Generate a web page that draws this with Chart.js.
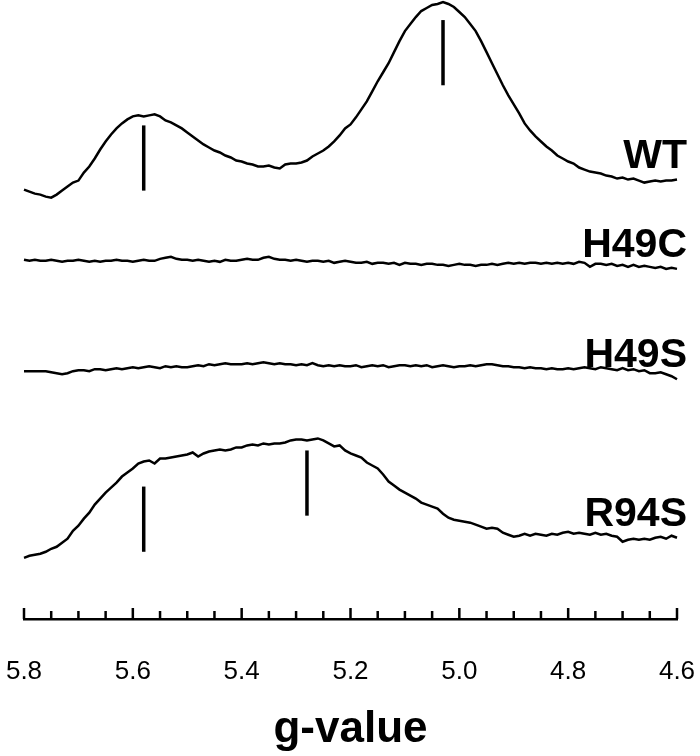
<!DOCTYPE html>
<html>
<head>
<meta charset="utf-8">
<script src="https://cdn.jsdelivr.net/npm/chart.js@4.4.1/dist/chart.umd.min.js"></script>
<style>
  body { margin: 0; background: #fff; }
  canvas { display: block; }
</style>
</head>
<body>
<canvas id="grafico" width="700" height="756"></canvas>
<script>
// g-value positions shared by all four spectra (x axis, reversed)
const gValues = [
  5.80,5.79,5.78,5.77,5.76,5.75,5.74,5.73,5.72,5.71,
  5.70,5.69,5.68,5.67,5.66,5.65,5.64,5.63,5.62,5.61,
  5.60,5.59,5.58,5.57,5.56,5.55,5.54,5.53,5.52,5.51,
  5.50,5.49,5.48,5.47,5.46,5.45,5.44,5.43,5.42,5.41,
  5.40,5.39,5.38,5.37,5.36,5.35,5.34,5.33,5.32,5.31,
  5.30,5.29,5.28,5.27,5.26,5.25,5.24,5.23,5.22,5.21,
  5.20,5.19,5.18,5.17,5.16,5.15,5.14,5.13,5.12,5.11,
  5.10,5.09,5.08,5.07,5.06,5.05,5.04,5.03,5.02,5.01,
  5.00,4.99,4.98,4.97,4.96,4.95,4.94,4.93,4.92,4.91,
  4.90,4.89,4.88,4.87,4.86,4.85,4.84,4.83,4.82,4.81,
  4.80,4.79,4.78,4.77,4.76,4.75,4.74,4.73,4.72,4.71,
  4.70,4.69,4.68,4.67,4.66,4.65,4.64,4.63,4.62,4.61,
  4.60
];

// EPR signal (arbitrary units, spectra stacked)
const wt = [
  428,426,424,423,421,420,423,427,431,435,
  437,445,451,459,468,476,483,489,494,498,
  501,502,501,502,503,501,497,495,492,489,
  485,481,477,473,470,467,465,462,460,457,
  456,454,453,451,451,452,450,449,453,454,
  454,455,457,461,464,467,471,476,482,489,
  493,500,508,516,526,536,545,554,565,576,
  586,593,600,606,609,612,613,615,613,610,
  605,600,593,586,576,565,554,543,532,522,
  513,504,494,487,481,476,471,467,462,459,
  456,454,450,448,446,445,444,442,441,439,
  440,438,439,437,435,436,437,436,437,437,
  438
];
const h49c = [
  358,357,358,357,357,358,357,356,357,357,
  358,357,356,357,356,357,357,358,357,357,
  356,357,358,357,357,359,360,361,359,358,
  358,357,358,357,356,357,356,358,357,357,
  358,359,358,358,360,361,359,358,358,357,
  358,357,356,357,357,356,357,355,356,357,
  356,355,355,356,354,355,355,354,355,353,
  355,354,354,353,354,354,353,353,352,353,
  354,353,353,352,353,353,354,353,354,355,
  354,355,354,355,355,354,355,354,355,354,
  355,354,356,355,351,354,354,353,354,352,
  353,351,353,351,352,351,350,351,349,350,
  349
];
const h49s = [
  247,247,247,247,247,246,245,244,245,247,
  248,248,247,249,249,248,249,250,249,250,
  251,250,251,252,251,250,252,251,252,251,
  251,252,253,252,254,253,254,255,254,254,
  254,255,254,255,256,255,254,255,254,254,
  253,254,253,255,253,252,253,252,253,252,
  252,253,251,252,253,252,253,251,252,253,
  253,252,253,252,253,251,252,253,252,251,
  252,252,253,252,253,254,254,253,252,252,
  251,251,250,251,250,250,249,250,249,249,
  250,249,250,251,250,249,251,250,249,248,
  250,248,249,247,248,245,245,246,244,242,
  239
];
const r94s = [
  61,63,64,65,67,70,72,76,80,88,
  93,100,106,114,120,126,131,136,142,146,
  150,155,157,158,155,160,160,161,162,163,
  164,166,162,165,167,168,169,168,169,171,
  171,173,174,173,175,174,175,175,176,178,
  179,179,178,179,180,178,175,172,173,168,
  165,163,161,156,153,150,144,137,133,129,
  126,123,120,116,114,112,110,105,101,99,
  98,97,96,94,92,90,91,90,86,84,
  82,83,85,83,85,84,83,85,84,86,
  87,85,86,85,84,86,84,85,83,82,
  77,79,80,79,80,79,81,82,80,83,
  81
];
const seriesNames = ['WT', 'H49C', 'H49S', 'R94S'];

// vertical marker bars (g position, bottom, top)
const markerG = [5.58, 5.03, 5.58, 5.28];
const markerLow = [427, 532, 67, 103];
const markerHigh = [492, 597, 132, 168];

// axis ticks
const majorTicks = [5.8, 5.6, 5.4, 5.2, 5.0, 4.8, 4.6];
const tickLabels = ['5.8', '5.6', '5.4', '5.2', '5.0', '4.8', '4.6'];
const minorTicks = [5.75, 5.7, 5.65, 5.55, 5.5, 5.45, 5.35, 5.3, 5.25, 5.15, 5.1, 5.05,
                    4.95, 4.9, 4.85, 4.75, 4.7, 4.65];

const fonte = 'Liberation Sans, Arial, sans-serif';

const traces = [wt, h49c, h49s, r94s].map((serie, i) => ({
  label: seriesNames[i],
  data: serie.map((v, j) => ({ x: gValues[j], y: v })),
  borderColor: '#000',
  borderWidth: 2.5,
  pointRadius: 0,
  tension: 0,
  clip: false,
}));

const markers = markerG.map((g, i) => ({
  label: 'marker' + i,
  data: [{ x: g, y: markerLow[i] }, { x: g, y: markerHigh[i] }],
  borderColor: '#000',
  borderWidth: 3.5,
  borderCapStyle: 'butt',
  pointRadius: 0,
  clip: false,
}));

// tick marks pointing up from the axis + right-hand labels
const extras = {
  id: 'extras',
  afterDraw(chart) {
    const ctx = chart.ctx;
    const xs = chart.scales.x;
    const ys = chart.scales.y;
    const base = chart.chartArea.bottom;
    ctx.save();
    ctx.strokeStyle = '#000';
    ctx.lineWidth = 2.5;
    ctx.lineCap = 'butt';
    majorTicks.forEach(v => {
      const px = xs.getPixelForValue(v);
      ctx.beginPath(); ctx.moveTo(px, base); ctx.lineTo(px, base - 11); ctx.stroke();
    });
    minorTicks.forEach(v => {
      const px = xs.getPixelForValue(v);
      ctx.beginPath(); ctx.moveTo(px, base); ctx.lineTo(px, base - 8); ctx.stroke();
    });

    ctx.fillStyle = '#000';
    ctx.font = 'bold 41px ' + fonte;
    ctx.textAlign = 'right';
    ctx.textBaseline = 'alphabetic';
    const xr = xs.getPixelForValue(4.6) + 10;
    traces.forEach(t => {
      const last = t.data[t.data.length - 1].y;
      ctx.fillText(t.label, xr, ys.getPixelForValue(last) - 12);
    });
    ctx.restore();
  }
};

new Chart(document.getElementById('grafico'), {
  type: 'line',
  data: { datasets: traces.concat(markers) },
  options: {
    responsive: false,
    animation: false,
    events: [],
    layout: { padding: { left: 24, right: 23, top: 0, bottom: 0 } },
    plugins: { legend: { display: false }, tooltip: { enabled: false } },
    scales: {
      x: {
        type: 'linear',
        reverse: true,
        min: 4.6,
        max: 5.8,
        afterBuildTicks: axis => { axis.ticks = majorTicks.map(v => ({ value: v })); },
        ticks: {
          autoSkip: false,
          maxRotation: 0,
          padding: 0,
          color: '#000',
          font: { family: fonte, size: 26 },
          callback: (v, i) => tickLabels[majorTicks.indexOf(v)],
        },
        // invisible tick marks, used only to push the labels down
        grid: { display: true, drawOnChartArea: false, drawTicks: true, tickLength: 37, color: 'rgba(0,0,0,0)' },
        border: { display: true, color: '#000', width: 2.6 },
        title: {
          display: true,
          text: 'g-value',
          color: '#000',
          font: { family: fonte, size: 44, weight: 'bold' },
          padding: { top: 16, bottom: 0 },
        },
      },
      y: {
        display: false,
        min: 0,
        max: 617,
      },
    },
  },
  plugins: [extras],
});
</script>
</body>
</html>
